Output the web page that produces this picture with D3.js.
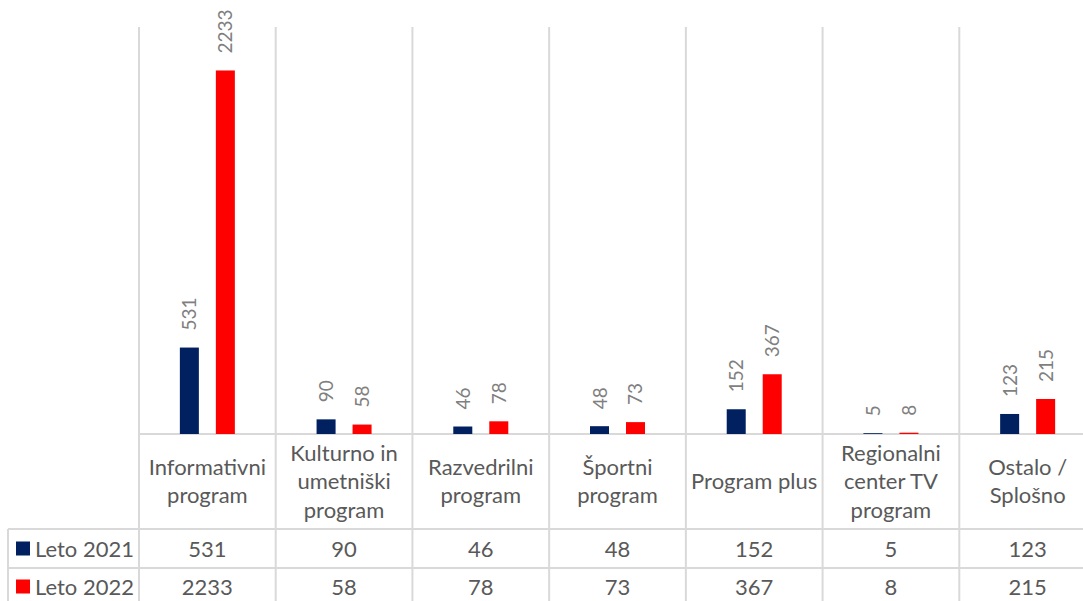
<!DOCTYPE html>
<html>
<head>
<meta charset="utf-8">
<script src="https://cdn.jsdelivr.net/npm/d3@7"></script>
<style>
  html, body { margin: 0; padding: 0; background: #fff; }
  svg { display: block; font-family: "Lato", "Open Sans", sans-serif; }
</style>
</head>
<body>
<svg id="chart" width="1083" height="601"></svg>
<script>
const categories = [
  ["Informativni", "program"],
  ["Kulturno in", "umetniški", "program"],
  ["Razvedrilni", "program"],
  ["Športni", "program"],
  ["Program plus"],
  ["Regionalni", "center TV", "program"],
  ["Ostalo /", "Splošno"]
];
const seriesNames = ["Leto 2021", "Leto 2022"];
const values2021 = [531, 90, 46, 48, 152, 5, 123];
const values2022 = [2233, 58, 78, 73, 367, 8, 215];
const colors = ["#002060", "#FF0000"];
const yMax = 2500;

const series = [values2021, values2022];
const svg = d3.select("#chart");

const plotLeft = 139, plotRight = 1096, plotTop = 27, baseY = 434;
const tableLeft = 8;
const rowLines = [529, 568, 607];

const idx = d3.range(categories.length);
const x0 = d3.scaleBand().domain(idx).range([plotLeft, plotRight]).padding(0);
const bw = x0.bandwidth();
const x1 = d3.scaleBand().domain(d3.range(series.length))
  .range([(bw - 55) / 2, (bw + 55) / 2]).paddingInner(0.472).paddingOuter(0);
const y = d3.scaleLinear().domain([0, yMax]).range([baseY, plotTop]);

const grid = "#d9d9d9";
const dividers = idx.map(i => x0(i)).concat([plotRight]);
svg.append("g").selectAll("line").data(dividers).join("line")
  .attr("x1", d => d).attr("x2", d => d)
  .attr("y1", plotTop).attr("y2", 601)
  .attr("stroke", grid).attr("stroke-width", 2);

svg.append("line").attr("x1", plotLeft).attr("x2", plotRight)
  .attr("y1", baseY).attr("y2", baseY).attr("stroke", grid).attr("stroke-width", 2);
svg.append("g").selectAll("line").data(rowLines).join("line")
  .attr("x1", tableLeft).attr("x2", plotRight)
  .attr("y1", d => d).attr("y2", d => d)
  .attr("stroke", grid).attr("stroke-width", 2);
svg.append("line").attr("x1", tableLeft).attr("x2", tableLeft)
  .attr("y1", rowLines[0]).attr("y2", 601).attr("stroke", grid).attr("stroke-width", 2);

// bars + rotated data labels
series.forEach((vals, s) => {
  const g = svg.append("g");
  g.selectAll("rect").data(vals).join("rect")
    .attr("x", (d, i) => x0(i) + x1(s))
    .attr("y", d => y(d))
    .attr("width", x1.bandwidth())
    .attr("height", d => baseY - y(d))
    .attr("fill", colors[s]);
  g.selectAll("text").data(vals).join("text")
    .attr("transform", (d, i) => `translate(${x0(i) + x1(s) + x1.bandwidth() / 2 + 7},${y(d) - 17}) rotate(-90)`)
    .attr("text-anchor", "start")
    .attr("font-size", 19)
    .attr("fill", "#7f7f7f")
    .text(d => d);
});

// category labels
const lineH = 28.5;
const headerMid = (baseY + rowLines[0]) / 2;
const catG = svg.append("g");
categories.forEach((lines, i) => {
  const cx = x0(i) + bw / 2;
  const startY = headerMid - (lines.length - 1) * lineH / 2 + 7.5;
  const t = catG.append("text").attr("text-anchor", "middle")
    .attr("font-size", 22).attr("fill", "#595959");
  lines.forEach((ln, k) => {
    t.append("tspan").attr("x", cx).attr("y", startY + k * lineH).text(ln);
  });
});

// table rows
series.forEach((vals, s) => {
  const cy = s === 0 ? 548.5 : 586.5;
  svg.append("rect").attr("x", 16).attr("y", cy - 7).attr("width", 14).attr("height", 14)
    .attr("fill", colors[s]);
  svg.append("text").attr("x", 35).attr("y", cy + 8)
    .attr("font-size", 22).attr("fill", "#595959").text(seriesNames[s]);
  svg.append("g").selectAll("text").data(vals).join("text")
    .attr("x", (d, i) => x0(i) + bw / 2).attr("y", cy + 8)
    .attr("text-anchor", "middle").attr("font-size", 22).attr("fill", "#595959")
    .text(d => d);
});
</script>
</body>
</html>
